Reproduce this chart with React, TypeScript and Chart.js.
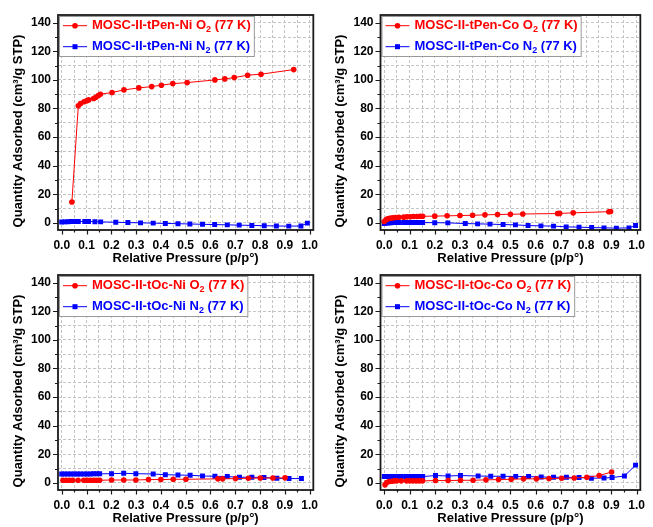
import { useEffect, useRef } from 'react';
import { Chart, registerables } from 'chart.js';

Chart.register(...registerables);

const FONT = '"Liberation Sans", Arial, Helvetica, sans-serif';
const RED = '#FF0000';
const BLUE = '#0000FF';

// ---- Panel 1: MOSC-II-tPen-Ni ----
const tPenNiO2X = [0.041, 0.067, 0.076, 0.09, 0.1, 0.109, 0.129, 0.138, 0.148, 0.156, 0.203, 0.251, 0.311, 0.363, 0.402, 0.448, 0.506, 0.618, 0.658, 0.696, 0.75, 0.804, 0.936];
const tPenNiO2Y = [14.6, 81.9, 83.5, 84.7, 85.3, 86.0, 87.0, 87.9, 89.1, 90.0, 91.2, 93.0, 94.4, 95.3, 96.3, 97.4, 98.1, 100.0, 100.7, 101.6, 103.3, 104.0, 107.2];
const tPenNiN2X = [0.0, 0.012, 0.024, 0.037, 0.05, 0.067, 0.093, 0.108, 0.134, 0.157, 0.218, 0.267, 0.318, 0.369, 0.418, 0.469, 0.517, 0.568, 0.617, 0.668, 0.716, 0.767, 0.817, 0.866, 0.916, 0.965, 0.991];
const tPenNiN2Y = [0.6, 0.7, 0.8, 0.9, 0.9, 1.0, 1.0, 1.0, 0.8, 0.7, 0.4, 0.2, 0.0, -0.2, -0.4, -0.6, -0.8, -1.0, -1.2, -1.4, -1.6, -1.8, -2.0, -2.2, -2.3, -2.2, -0.2];

// ---- Panel 2: MOSC-II-tPen-Co ----
const tPenCoO2X = [0.0, 0.007, 0.013, 0.019, 0.026, 0.035, 0.045, 0.058, 0.077, 0.09, 0.103, 0.116, 0.129, 0.142, 0.152, 0.2, 0.249, 0.3, 0.35, 0.399, 0.449, 0.5, 0.549, 0.687, 0.695, 0.749, 0.89, 0.897];
const tPenCoO2Y = [0.9, 2.1, 2.8, 3.0, 3.3, 3.5, 3.7, 3.9, 4.0, 4.2, 4.2, 4.4, 4.4, 4.6, 4.6, 4.7, 4.9, 5.1, 5.3, 5.6, 5.8, 6.0, 6.2, 6.5, 6.6, 7.0, 7.8, 7.9];
const tPenCoN2X = [0.0, 0.007, 0.013, 0.019, 0.026, 0.035, 0.045, 0.058, 0.077, 0.09, 0.103, 0.116, 0.129, 0.142, 0.152, 0.2, 0.252, 0.321, 0.37, 0.419, 0.471, 0.52, 0.57, 0.621, 0.671, 0.721, 0.772, 0.822, 0.871, 0.92, 0.97, 0.996];
const tPenCoN2Y = [-0.5, -0.2, 0.0, 0.1, 0.1, 0.2, 0.2, 0.2, 0.2, 0.2, 0.2, 0.2, 0.2, 0.2, 0.2, 0.1, 0.0, -0.5, -0.7, -0.9, -1.2, -1.4, -1.9, -2.1, -2.3, -2.8, -3.0, -3.3, -3.5, -3.7, -3.5, -1.9];

// ---- Panel 3: MOSC-II-tOc-Ni ----
const tOcNiO2X = [0.005, 0.018, 0.031, 0.044, 0.066, 0.089, 0.102, 0.115, 0.128, 0.14, 0.153, 0.201, 0.25, 0.299, 0.35, 0.4, 0.45, 0.501, 0.63, 0.649, 0.701, 0.753, 0.801, 0.852, 0.901];
const tOcNiO2Y = [1.8, 1.8, 1.8, 1.8, 1.8, 1.8, 1.8, 1.8, 1.8, 1.8, 1.8, 2.0, 2.0, 2.0, 2.3, 2.3, 2.5, 2.5, 2.8, 2.8, 3.0, 3.2, 3.4, 3.4, 3.5];
const tOcNiN2X = [0.0, 0.012, 0.024, 0.037, 0.05, 0.063, 0.075, 0.089, 0.102, 0.115, 0.128, 0.14, 0.153, 0.201, 0.25, 0.299, 0.369, 0.418, 0.469, 0.518, 0.568, 0.618, 0.668, 0.717, 0.767, 0.816, 0.868, 0.917, 0.967];
const tOcNiN2Y = [6.2, 6.2, 6.2, 6.2, 6.2, 6.2, 6.2, 6.2, 6.2, 6.2, 6.3, 6.3, 6.3, 6.4, 6.7, 6.4, 6.2, 5.7, 5.5, 5.3, 4.8, 4.6, 4.4, 3.9, 3.9, 3.7, 3.2, 3.0, 3.0];

// ---- Panel 4: MOSC-II-tOc-Co ----
const tOcCoO2X = [0.003, 0.01, 0.019, 0.029, 0.039, 0.049, 0.067, 0.088, 0.101, 0.114, 0.127, 0.139, 0.152, 0.203, 0.253, 0.302, 0.352, 0.403, 0.453, 0.503, 0.552, 0.603, 0.653, 0.703, 0.753, 0.803, 0.852, 0.901];
const tOcCoO2Y = [-1.4, 0.2, 0.9, 1.1, 1.4, 1.4, 1.4, 1.4, 1.4, 1.4, 1.4, 1.4, 1.4, 1.6, 1.6, 1.8, 1.8, 2.1, 2.3, 2.5, 2.8, 2.8, 3.0, 3.2, 3.4, 3.9, 5.1, 7.6];
const tOcCoN2X = [0.0, 0.01, 0.019, 0.029, 0.039, 0.049, 0.058, 0.068, 0.088, 0.101, 0.114, 0.127, 0.139, 0.152, 0.203, 0.253, 0.302, 0.372, 0.422, 0.471, 0.521, 0.572, 0.622, 0.671, 0.722, 0.772, 0.821, 0.871, 0.903, 0.952, 0.996];
const tOcCoN2Y = [4.4, 4.4, 4.4, 4.4, 4.4, 4.4, 4.4, 4.4, 4.4, 4.4, 4.4, 4.4, 4.4, 4.4, 5.1, 4.8, 5.1, 4.8, 4.6, 4.6, 4.4, 4.4, 4.1, 3.9, 3.9, 3.7, 3.2, 3.4, 3.7, 4.8, 12.4];

// ---- Axes ----
const xMajorTicks = [0.0, 0.1, 0.2, 0.3, 0.4, 0.5, 0.6, 0.7, 0.8, 0.9, 1.0];
const xMinorTicks = [0.05, 0.15, 0.25, 0.35, 0.45, 0.55, 0.65, 0.75, 0.85, 0.95];
const yMajorTicks = [0, 20, 40, 60, 80, 100, 120, 140];
const yMinorTicks = [10, 30, 50, 70, 90, 110, 130];
const xAxisTitle = 'Relative Pressure (p/p°)';
const yAxisTitle = 'Quantity Adsorbed (cm³/g STP)';
const sampleNames = ['MOSC-II-tPen-Ni', 'MOSC-II-tPen-Co', 'MOSC-II-tOc-Ni', 'MOSC-II-tOc-Co'];
const o2Suffix = ' O₂ (77 K)';
const n2Suffix = ' N₂ (77 K)';

const isIn = (list: number[], v: number) => list.some((m) => Math.abs(m - v) < 1e-9);
const zip = (xs: number[], ys: number[]) => xs.map((x, i) => ({ x, y: ys[i] }));

function drawRich(ctx: CanvasRenderingContext2D, text: string, x: number, y: number, draw: boolean) {
  const parts = text.split(/([₂])/);
  let cx = x;
  for (const p of parts) {
    if (!p) continue;
    if (p === '₂') {
      ctx.font = `bold 9px ${FONT}`;
      if (draw) ctx.fillText('2', cx, y + 4);
      cx += ctx.measureText('2').width;
    } else {
      ctx.font = `bold 13px ${FONT}`;
      if (draw) ctx.fillText(p, cx, y);
      cx += ctx.measureText(p).width;
    }
  }
  return cx - x;
}

const decorPlugin = {
  id: 'decor',
  afterDraw(chart: any) {
    const { ctx, chartArea: ca, scales } = chart;
    const xs = scales.x;
    const ys = scales.y;
    ctx.save();
    // tick marks
    ctx.strokeStyle = '#1a1a1a';
    ctx.lineWidth = 1.2;
    ctx.beginPath();
    [...xMajorTicks, ...xMinorTicks].forEach((v) => {
      const px = Math.round(xs.getPixelForValue(v)) + 0.5;
      const len = isIn(xMajorTicks, v) ? 4.5 : 2.5;
      ctx.moveTo(px, ca.bottom);
      ctx.lineTo(px, ca.bottom + len);
    });
    [...yMajorTicks, ...yMinorTicks].forEach((v) => {
      const py = Math.round(ys.getPixelForValue(v)) + 0.5;
      const len = isIn(yMajorTicks, v) ? 5 : 3;
      ctx.moveTo(ca.left, py);
      ctx.lineTo(ca.left - len, py);
    });
    ctx.stroke();

    // legend
    const ds = chart.data.datasets;
    ctx.textBaseline = 'middle';
    ctx.textAlign = 'left';
    const textX = ca.left + 34;
    let maxW = 0;
    ds.forEach((d: any) => {
      maxW = Math.max(maxW, drawRich(ctx, d.label, 0, 0, false));
    });
    const bx = ca.left + 1;
    const by = ca.top + 1;
    const bw = textX + maxW + 4 - bx;
    const bh = 41;
    ctx.fillStyle = '#ffffff';
    ctx.fillRect(bx, by, bw, bh);
    ctx.strokeStyle = '#9a9a9a';
    ctx.lineWidth = 1;
    ctx.strokeRect(bx + 0.5, by + 0.5, bw - 1, bh - 1);
    ds.forEach((d: any, i: number) => {
      const ry = ca.top + 10.7 + i * 21;
      ctx.strokeStyle = d.borderColor;
      ctx.lineWidth = 1;
      ctx.beginPath();
      ctx.moveTo(ca.left + 5, ry);
      ctx.lineTo(ca.left + 29, ry);
      ctx.stroke();
      ctx.fillStyle = d.backgroundColor;
      if (d.pointStyle === 'rect') {
        ctx.fillRect(ca.left + 17 - 2.5, ry - 2.5, 5, 5);
      } else {
        ctx.beginPath();
        ctx.arc(ca.left + 17, ry, 2.8, 0, Math.PI * 2);
        ctx.fill();
      }
      ctx.fillStyle = d.borderColor;
      drawRich(ctx, d.label, textX, ry, true);
    });

    // frame
    ctx.strokeStyle = '#1a1a1a';
    ctx.lineWidth = 1.8;
    ctx.strokeRect(ca.left, ca.top, ca.right - ca.left, ca.bottom - ca.top);

    // axis titles
    ctx.fillStyle = '#000';
    ctx.font = `bold 13px ${FONT}`;
    ctx.textAlign = 'center';
    ctx.textBaseline = 'middle';
    ctx.fillText(xAxisTitle, (ca.left + ca.right) / 2, ca.bottom + 28.5);
    ctx.save();
    ctx.translate(18, ca.top + 116);
    ctx.rotate(-Math.PI / 2);
    ctx.fillText(yAxisTitle, 0, 0);
    ctx.restore();
    ctx.restore();
  },
};

type PanelProps = {
  left: number;
  top: number;
  width: number;
  height: number;
  yAxisWidth: number;
  padRight: number;
  xAxisHeight: number;
  name: string;
  o2: { x: number; y: number }[];
  n2: { x: number; y: number }[];
};

function Panel(p: PanelProps) {
  const ref = useRef<HTMLCanvasElement | null>(null);
  useEffect(() => {
    if (!ref.current) return;
    const tickFont = { family: FONT, size: 12, weight: 'bold' as const };
    const chart = new Chart(ref.current, {
      type: 'scatter',
      data: {
        datasets: [
          {
            label: p.name + o2Suffix,
            data: p.o2,
            showLine: true,
            borderColor: RED,
            backgroundColor: RED,
            borderWidth: 1,
            pointStyle: 'circle',
            pointRadius: 2.8,
            pointBorderWidth: 0,
          },
          {
            label: p.name + n2Suffix,
            data: p.n2,
            showLine: true,
            borderColor: BLUE,
            backgroundColor: BLUE,
            borderWidth: 1,
            pointStyle: 'rect',
            pointRadius: 3.5,
            pointBorderWidth: 0,
          },
        ] as any,
      },
      options: {
        animation: false,
        responsive: false,
        maintainAspectRatio: false,
        layout: { padding: { top: 15, right: p.padRight, left: 0, bottom: 0 } },
        plugins: { legend: { display: false }, tooltip: { enabled: false } },
        scales: {
          x: {
            type: 'linear',
            min: -0.015,
            max: 1.015,
            afterBuildTicks: (s: any) => {
              s.ticks = [...xMajorTicks, ...xMinorTicks].sort((a, b) => a - b).map((v) => ({ value: v }));
            },
            afterFit: (s: any) => {
              s.height = p.xAxisHeight;
            },
            ticks: {
              autoSkip: false,
              maxRotation: 0,
              padding: 8,
              color: '#000',
              font: tickFont,
              callback: (v: any) => (isIn(xMajorTicks, Number(v)) ? Number(v).toFixed(1) : ''),
            },
            grid: { color: '#c4c4c4', lineWidth: 1, drawTicks: false },
            border: { display: false, dash: [3, 2] },
          },
          y: {
            type: 'linear',
            min: -5,
            max: 145.4,
            afterBuildTicks: (s: any) => {
              s.ticks = [...yMajorTicks, ...yMinorTicks].sort((a, b) => a - b).map((v) => ({ value: v }));
            },
            afterFit: (s: any) => {
              s.width = p.yAxisWidth;
            },
            ticks: {
              autoSkip: false,
              padding: 7,
              color: '#000',
              font: tickFont,
              callback: (v: any) => (isIn(yMajorTicks, Number(v)) ? String(v) : ''),
            },
            grid: { color: '#c4c4c4', lineWidth: 1, drawTicks: false },
            border: { display: false, dash: [3, 2] },
          },
        },
      } as any,
      plugins: [decorPlugin],
    });
    return () => chart.destroy();
  }, []);
  return (
    <canvas
      ref={ref}
      width={p.width}
      height={p.height}
      style={{ position: 'absolute', left: p.left, top: p.top, width: p.width, height: p.height }}
    />
  );
}

export default function App() {
  return (
    <div style={{ position: 'absolute', left: 0, top: 0, width: 653, height: 527, background: '#fff' }}>
      <Panel left={0} top={0} width={326} height={270} yAxisWidth={58} padRight={2.5} xAxisHeight={40}
        name={sampleNames[0]} o2={zip(tPenNiO2X, tPenNiO2Y)} n2={zip(tPenNiN2X, tPenNiN2Y)} />
      <Panel left={322} top={0} width={331} height={270} yAxisWidth={58.5} padRight={7.5} xAxisHeight={40}
        name={sampleNames[1]} o2={zip(tPenCoO2X, tPenCoO2Y)} n2={zip(tPenCoN2X, tPenCoN2Y)} />
      <Panel left={0} top={260} width={326} height={267} yAxisWidth={58} padRight={2.5} xAxisHeight={37}
        name={sampleNames[2]} o2={zip(tOcNiO2X, tOcNiO2Y)} n2={zip(tOcNiN2X, tOcNiN2Y)} />
      <Panel left={322} top={260} width={331} height={267} yAxisWidth={58.5} padRight={7.5} xAxisHeight={37}
        name={sampleNames[3]} o2={zip(tOcCoO2X, tOcCoO2Y)} n2={zip(tOcCoN2X, tOcCoN2Y)} />
    </div>
  );
}
